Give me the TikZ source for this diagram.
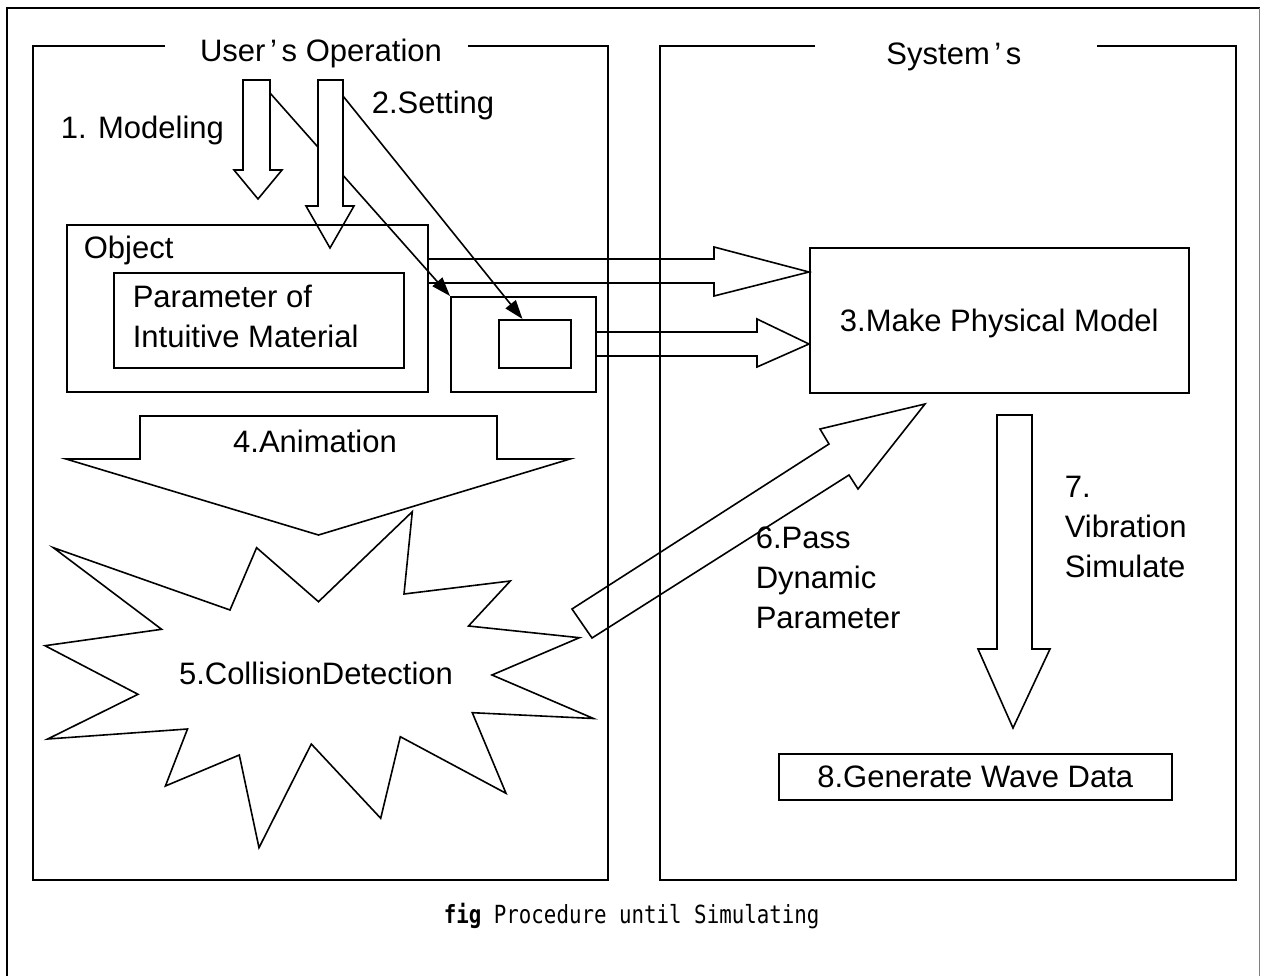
\documentclass[tikz,border=0pt]{standalone}
\usepackage{fontspec}
\setmainfont{Liberation Sans}
\newfontfamily\capfont{DejaVu Sans Mono}
\usetikzlibrary{arrows.meta,calc}

\begin{document}
\begin{tikzpicture}[x=1pt,y=-1pt,line width=1.6pt,line join=miter,
  box/.style={draw,rectangle,inner sep=0pt,anchor=north west},
  lbl/.style={font=\fontsize{31}{40}\selectfont,inner sep=0pt,text height=22pt,text depth=0pt},
  blockarrow/.style={draw},
  pointer/.style={-{Triangle[length=19pt,width=13pt]}},
  caption/.style={font=\capfont\fontsize{20.8}{24}\selectfont,inner sep=0pt}]

\useasboundingbox (0,0) rectangle (1261,976);

% outer frame
\draw[line width=2pt] (7,976) -- (7,8) -- (1259.5,8);
\draw[line width=1pt,gray] (1259.5,8) -- (1259.5,976);

% panels with titles set into their top edges
\node[lbl] (userop) at (321,51) {User\hspace{0.15em}’\hspace{0.15em}s Operation};
\node[lbl] (system) at (954,54) {System\hspace{0.15em}’\hspace{0.15em}s};
\draw (165,46) -- (33,46) -- (33,880) -- (608,880) -- (608,46) -- (468,46);
\draw (815,46) -- (660,46) -- (660,880) -- (1236,880) -- (1236,46) -- (1097,46);

% boxes
\node[box,minimum width=361pt,minimum height=167pt] (object) at (66,224) {};
\node[box,minimum width=290pt,minimum height=95pt] (param) at (113,272) {};
\node[box,minimum width=145pt,minimum height=95pt] (mid) at (450,296) {};
\node[box,minimum width=72pt,minimum height=48pt] (slot) at (498,319) {};
\node[box,minimum width=379pt,minimum height=145pt] (phys) at (809,247) {};
\node[box,minimum width=393pt,minimum height=46pt] (wave) at (778,753) {};

% thin pointers from the modeling arrows
\coordinate (modtap) at (270,93);
\coordinate (settap) at (343,96);
\draw[pointer] (modtap) -- (mid.north west);
\draw[pointer] (settap) -- ($(slot.north west)!0.333!(slot.north east)$);

% 1. modeling arrow
\draw[blockarrow] (243,80) -- (270,80) -- (270,170) -- (282,170) -- (258,199)
  -- (234,170) -- (243,170) -- cycle;
% 2. setting arrow (its shaft hides the pointer behind it)
\fill[white] (318,80) rectangle (343,206);
\draw[blockarrow] (318,80) -- (343,80) -- (343,206) -- (354,206) -- (330,248)
  -- (306,206) -- (318,206) -- cycle;

% arrows into the physical model
\draw[blockarrow] (object.east |- 0,259) -- (714,259) -- (714,247) -- (phys.west |- 0,272)
  -- (714,296) -- (714,283) -- (object.east |- 0,283);
\draw[blockarrow] (mid.east |- 0,332) -- (757,332) -- (757,319) -- (phys.west |- 0,344)
  -- (757,367) -- (757,356) -- (mid.east |- 0,356);

% 4. animation arrow
\draw[blockarrow] (140,416) -- (497,416) -- (497,459) -- (570,459) -- (318.5,535)
  -- (66,459) -- (140,459) -- cycle;

% 5. collision burst
\draw (53.4,547.7) -- (230,610) -- (256.6,547.7) -- (318.5,601.7) -- (412.3,511.7)
  -- (404,594) -- (510.3,581) -- (468.5,626) -- (579.4,637.7) -- (492,675)
  -- (593.5,718.5) -- (472.3,712.7) -- (506,793.3) -- (400.3,736.7) -- (380.7,818.3)
  -- (311.3,744) -- (259,847.7) -- (239.3,755) -- (165.4,786) -- (187.5,729)
  -- (47.7,739) -- (138,694.3) -- (45,645.7) -- (161.6,629.3) -- cycle;

% 6. pass dynamic parameter arrow
\draw[blockarrow] (572,609) -- (829,444) -- (820,429) -- (925,404) -- (858,489)
  -- (849,475) -- (592,638) -- cycle;

% 7. vibration simulate arrow
\draw[blockarrow] (997,415) -- (1032,415) -- (1032,649) -- (1050,649) -- (1013,728)
  -- (978,649) -- (997,649) -- cycle;

% labels
\node[lbl,anchor=west] (modeling) at (60,128) {1. Modeling};
\node[lbl,anchor=west] (setting) at (371,103) {2.Setting};
\node[lbl,anchor=west] (objlbl) at (83,248) {Object};
\node[lbl,anchor=west] (param1) at (132,297) {Parameter of};
\node[lbl,anchor=west] (param2) at (132,337) {Intuitive Material};
\node[lbl] (physlbl) at (phys.center) {3.Make Physical Model};
\node[lbl] (anim) at (315,441) {4.Animation};
\node[lbl] (collision) at (316,673) {5.CollisionDetection};
\node[lbl,anchor=west] (pass1) at (755,537) {6.Pass};
\node[lbl,anchor=west] (pass2) at (755,577) {Dynamic};
\node[lbl,anchor=west] (pass3) at (755,617) {Parameter};
\node[lbl,anchor=west] (vib1) at (1064,486) {7.};
\node[lbl,anchor=west] (vib2) at (1064,526) {Vibration};
\node[lbl,anchor=west] (vib3) at (1064,566) {Simulate};
\node[lbl] (wavelbl) at (wave.center) {8.Generate Wave Data};

% caption, a tall narrow monospaced face
\node[caption,anchor=west] (figcap) at (443,916)
  {\scalebox{1}[1.2]{\textbf{fig} Procedure until Simulating}};
\end{tikzpicture}
\end{document}
